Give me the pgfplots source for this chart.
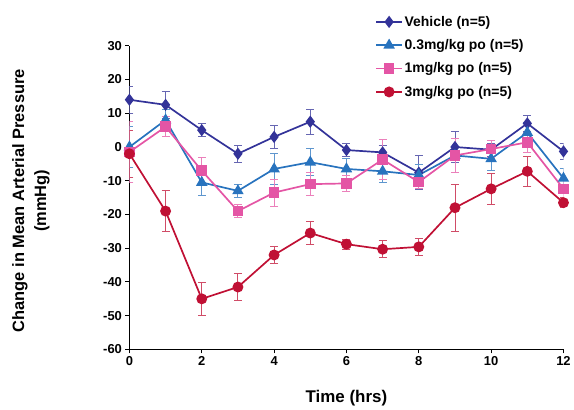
\documentclass[border=0pt]{standalone}
\usepackage{pgfplots}
\pgfplotsset{compat=1.18}
\usepackage{fontspec}
\setmainfont{Liberation Sans}
\definecolor{cveh}{RGB}{51,51,153}
\definecolor{clow}{RGB}{40,115,190}
\definecolor{cmid}{RGB}{228,85,165}
\definecolor{chigh}{RGB}{192,16,52}

\begin{document}
\begin{tikzpicture}
\begin{axis}[
  scale only axis,
  width=436pt, height=305pt,
  xmin=0, xmax=12, ymin=-60, ymax=30,
  xtick={0,2,...,12}, ytick={-60,-50,...,30},
  axis x line=bottom, axis y line=left,
  axis line style={line width=1.2pt, -},
  tick style={line width=1pt, black},
  tick align=outside, major tick length=4pt,
  ticklabel style={font=\bfseries\fontsize{13}{15}\selectfont},
  /pgf/number format/assume math mode=true,
  xlabel={Time (hrs)},
  ylabel={Change in Mean Arterial Pressure\\(mmHg)},
  ylabel style={align=center, font=\bfseries\fontsize{16.5}{22}\selectfont,
    at={(axis description cs:-0.227,0.49)}, anchor=center, rotate=0},
  xlabel style={font=\bfseries\fontsize{17}{19}\selectfont,
    at={(axis description cs:0.5,-0.161)}, anchor=center},
  every axis plot/.append style={line width=1.7pt},
  legend style={draw=none, fill=none, at={(0.5665,1.105)}, anchor=north west,
    font=\bfseries\fontsize{14}{16}\selectfont, row sep=7.8pt,
    inner sep=0pt},
  legend cell align=left,
  legend image code/.code={%
    \draw[mark repeat=2, mark phase=2] plot coordinates {(0cm,0cm) (0.45cm,0cm) (0.9cm,0cm)};},
]
\addplot[color=cveh, mark=diamond*, mark size=4.8pt,
  error bars/.cd, y dir=both, y explicit,
  error bar style={line width=0.9pt, cveh!75},
  error mark options={rotate=90, mark size=4pt, line width=0.9pt, cveh!75}]
  coordinates {
  (0,14) +- (0,4) (1,12.5) +- (0,4) (2,5) +- (0,2) (3,-2) +- (0,2.5)
  (4,3) +- (0,3.5) (5,7.5) +- (0,3.7) (6,-0.9) +- (0,2) (7,-1.6) +- (0,2)
  (8,-7.6) +- (0,5) (9,0) +- (0,4.5) (10,-0.8) +- (0,2) (11,7) +- (0,2.5)
  (12,-1.3) +- (0,2.5)};
\addlegendentry{Vehicle (n=5)}
\addplot[color=clow, mark=triangle*, mark size=5pt,
  error bars/.cd, y dir=both, y explicit,
  error bar style={line width=0.9pt, clow!75},
  error mark options={rotate=90, mark size=4pt, line width=0.9pt, clow!75}]
  coordinates {
  (0,0) +- (0,6) (1,8) +- (0,3) (2,-10.5) +- (0,4) (3,-13) +- (0,2)
  (4,-6.5) +- (0,4.5) (5,-4.5) +- (0,4) (6,-6.5) +- (0,3) (7,-7.2) +- (0,3.2)
  (8,-8.3) +- (0,3) (9,-2.5) +- (0,5) (10,-3.5) +- (0,3.5) (11,4.3) +- (0,3)
  (12,-9.3) +- (0,3)};
\addlegendentry{0.3mg/kg po (n=5)}
\addplot[color=cmid, mark=square*, mark size=4.5pt,
  error bars/.cd, y dir=both, y explicit,
  error bar style={line width=0.9pt, cmid!75},
  error mark options={rotate=90, mark size=4pt, line width=0.9pt, cmid!75}]
  coordinates {
  (0,-1.5) +- (0,9) (1,6) +- (0,3) (2,-7) +- (0,4) (3,-19) +- (0,2)
  (4,-13.5) +- (0,4) (5,-11) +- (0,3.5) (6,-10.8) +- (0,2.5) (7,-3.7) +- (0,6)
  (8,-10.4) +- (0,2) (9,-2.5) +- (0,5) (10,-0.6) +- (0,2.5) (11,1.4) +- (0,3)
  (12,-12.4) +- (0,2.5)};
\addlegendentry{1mg/kg po (n=5)}
\addplot[color=chigh, mark=*, mark size=4.6pt,
  error bars/.cd, y dir=both, y explicit,
  error bar style={line width=0.9pt, chigh!75},
  error mark options={rotate=90, mark size=4pt, line width=0.9pt, chigh!75}]
  coordinates {
  (0,-2) +- (0,7) (1,-19) +- (0,6) (2,-45) +- (0,5) (3,-41.5) +- (0,4)
  (4,-32) +- (0,2.5) (5,-25.5) +- (0,3.5) (6,-28.8) +- (0,1.5) (7,-30.3) +- (0,2.5)
  (8,-29.6) +- (0,2.5) (9,-18) +- (0,7) (10,-12.4) +- (0,4.5) (11,-7.2) +- (0,4.5)
  (12,-16.5) +- (0,1.5)};
\addlegendentry{3mg/kg po (n=5)}
\coordinate (sw) at (rel axis cs:0,0);
\coordinate (ne) at (rel axis cs:1,1);
\end{axis}
\path (sw) ++(-130pt,-59pt);
\path (ne) ++(8pt,46pt);
\end{tikzpicture}
\end{document}
